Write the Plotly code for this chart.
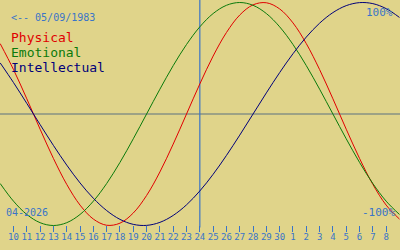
import plotly.graph_objects as go

# Day index (April days; 31.. = May 1..)
days = list(range(9, 40))

tick_vals = list(range(10, 39))
tick_text = [str(d) for d in range(10, 31)] + [str(d) for d in range(1, 9)]

physical = [0.6311, 0.3984, 0.1362, -0.1362, -0.3984, -0.6311, -0.8170, -0.9423,
            -0.9977, -0.9791, -0.8879, -0.7308, -0.5196, -0.2698, 0.0, 0.2698,
            0.5196, 0.7308, 0.8879, 0.9791, 0.9977, 0.9423, 0.8170, 0.6311,
            0.3984, 0.1362, -0.1362, -0.3984, -0.6311, -0.8170, -0.9423]

emotional = [-0.6235, -0.7818, -0.9010, -0.9749, -1.0, -0.9749, -0.9010, -0.7818,
             -0.6235, -0.4339, -0.2225, 0.0, 0.2225, 0.4339, 0.6235, 0.7818,
             0.9010, 0.9749, 1.0, 0.9749, 0.9010, 0.7818, 0.6235, 0.4339,
             0.2225, 0.0, -0.2225, -0.4339, -0.6235, -0.7818, -0.9010]

intellectual = [0.4582, 0.2817, 0.0951, -0.0951, -0.2817, -0.4582, -0.6182, -0.7557,
                -0.8660, -0.9450, -0.9898, -0.9989, -0.9718, -0.9096, -0.8146, -0.6901,
                -0.5406, -0.3717, -0.1893, 0.0, 0.1893, 0.3717, 0.5406, 0.6901,
                0.8146, 0.9096, 0.9718, 0.9989, 0.9898, 0.9450, 0.8660]

series_names = ["Physical", "Emotional", "Intellectual"]
series_values = [physical, emotional, intellectual]
series_colors = ["#e00000", "#0a7a0a", "#00007a"]

today = 24
birth_label = "<-- 05/09/1983"
month_label = "04-2026"
top_label = "100%"
bottom_label = "-100%"

BG = "#e0d48a"
BLUE = "#3a74c8"
MONO = "DejaVu Sans Mono"

fig = go.Figure()
for name, vals, col in zip(series_names, series_values, series_colors):
    fig.add_trace(go.Scatter(x=days, y=vals, mode="lines", name=name,
                             line=dict(color=col, width=1, shape="spline"),
                             hoverinfo="skip", showlegend=False))

fig.add_shape(type="line", xref="paper", x0=0, x1=1, yref="y", y0=0, y1=0,
              line=dict(color="#5a7080", width=1), layer="below")
fig.add_shape(type="line", xref="x", x0=today, x1=today, yref="paper", y0=0.09, y1=1,
              line=dict(color=BLUE, width=1.2), layer="below")

W, H = 400, 250

def ann(text, px, py, color, size, xanchor="left"):
    fig.add_annotation(text=text, xref="paper", yref="paper",
                       x=px / W, y=1 - py / H, xanchor=xanchor, yanchor="middle",
                       showarrow=False, font=dict(family=MONO, size=size, color=color))

ann(birth_label, 9, 17, BLUE, 10)
for i, (name, col) in enumerate(zip(series_names, series_colors)):
    ann(name, 9, 37 + i * 15.4, col, 13)
ann(month_label, 4, 212, BLUE, 10)
ann(top_label, 395, 12, BLUE, 11, xanchor="right")
ann(bottom_label, 397, 212, BLUE, 11, xanchor="right")

fig.update_layout(
    width=W, height=H, margin=dict(l=0, r=0, t=0, b=0),
    paper_bgcolor=BG, plot_bgcolor=BG,
    xaxis=dict(range=[8.986, 39.04], anchor="free", position=0.1,
               tickvals=tick_vals, ticktext=tick_text, ticks="outside",
               ticklen=6, tickwidth=1, tickcolor=BLUE, ticklabelstandoff=-3,
               tickfont=dict(family=MONO, size=9, color=BLUE),
               showgrid=False, zeroline=False, showline=False, fixedrange=True),
    yaxis=dict(range=[-1.2197, 1.0224], visible=False, fixedrange=True),
    hovermode=False,
)

fig.write_html("out.html")
